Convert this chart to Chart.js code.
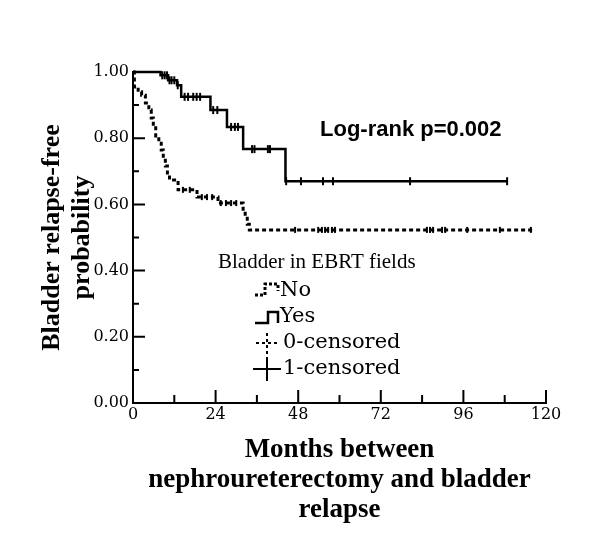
<!DOCTYPE html>
<html>
<head>
<meta charset="utf-8">
<script src="https://cdn.jsdelivr.net/npm/chart.js@4.4.0/dist/chart.umd.min.js"></script>
<style>
  html, body { margin: 0; padding: 0; background: #fff; }
  #wrap { width: 600px; height: 559px; }
</style>
</head>
<body>
<div id="wrap"><canvas id="km-chart" width="600" height="559"></canvas></div>
<script>
// Kaplan-Meier steps (months, probability)
var noTimes = [0, 0.4, 1.5, 2.5, 3.6, 4.6, 5.3, 5.9, 6.6, 7.5, 8.2, 8.8, 9.4, 10.0, 10.6, 13.1, 18.6, 24.7, 32.0, 32.6, 33.2, 33.8, 116];
var noSurv  = [1.00, 0.955, 0.94, 0.93, 0.906, 0.885, 0.861, 0.837, 0.807, 0.785, 0.764, 0.74, 0.716, 0.689, 0.674, 0.644, 0.622, 0.604, 0.585, 0.565, 0.54, 0.523, 0.523];

var yesTimes = [0, 8.0, 10.2, 12.8, 14.0, 22.5, 27.3, 32.0, 44.3, 108.7];
var yesSurv  = [1.00, 0.99, 0.975, 0.96, 0.925, 0.885, 0.834, 0.767, 0.67, 0.67];

// censored patients (tick marks on the curves)
var noCensorT = [14.5, 16.5, 20, 21.5, 23, 25.5, 27, 28.5, 30, 47.1, 53.8, 54.9, 55.8, 56.7, 57.8, 58.7, 85.4, 86.3, 87.2, 89.8, 90.7, 97.1, 106.6, 115.6];
var noCensorS = [0.644, 0.644, 0.622, 0.622, 0.622, 0.604, 0.604, 0.604, 0.604, 0.523, 0.523, 0.523, 0.523, 0.523, 0.523, 0.523, 0.523, 0.523, 0.523, 0.523, 0.523, 0.523, 0.523, 0.523];

var yesCensorT = [8.5, 9.2, 9.9, 10.6, 11.2, 12, 13, 15, 16, 17.5, 18.5, 19.5, 23.3, 24.5, 28.5, 29.6, 30.5, 34.6, 35.3, 39.2, 39.8, 44.5, 48.8, 55.2, 58.1, 80.5, 108.7];
var yesCensorS = [0.99, 0.99, 0.99, 0.975, 0.975, 0.975, 0.96, 0.925, 0.925, 0.925, 0.925, 0.925, 0.885, 0.885, 0.834, 0.834, 0.834, 0.767, 0.767, 0.767, 0.767, 0.67, 0.67, 0.67, 0.67, 0.67, 0.67];

var xMajorTicks = [0, 24, 48, 72, 96, 120];
var xMinorTicks = [12, 36, 60, 84, 108];
var yMajorTicks = [0, 0.2, 0.4, 0.6, 0.8, 1.0];
var yMinorTicks = [0.1, 0.3, 0.5, 0.7, 0.9];

var xTitle = ['Months between', 'nephroureterectomy and bladder', 'relapse'];
var yTitle = ['Bladder relapse-free', 'probability'];
var legendTitle = 'Bladder in EBRT fields';
var legendLabels = ['No', 'Yes', '0-censored', '1-censored'];
var pValueText = 'Log-rank p=0.002';

function toPoints(xs, ys) {
    return xs.map(function (x, i) { return { x: x, y: ys[i] }; });
}

// ticks of this chart point into the plot, so they are drawn here
var innerTicks = {
    id: 'innerTicks',
    afterDraw: function (chart) {
        var ctx = chart.ctx, xs = chart.scales.x, ys = chart.scales.y;
        var bottom = chart.chartArea.bottom, left = chart.chartArea.left;
        ctx.save();
        ctx.strokeStyle = '#000';
        ctx.lineWidth = 2;
        ctx.beginPath();
        xMajorTicks.forEach(function (v) {
            var px = xs.getPixelForValue(v);
            ctx.moveTo(px, bottom); ctx.lineTo(px, bottom - 13);
        });
        xMinorTicks.forEach(function (v) {
            var px = xs.getPixelForValue(v);
            ctx.moveTo(px, bottom); ctx.lineTo(px, bottom - 8);
        });
        yMajorTicks.forEach(function (v) {
            var py = ys.getPixelForValue(v);
            ctx.moveTo(left, py); ctx.lineTo(left + 12, py);
        });
        yMinorTicks.forEach(function (v) {
            var py = ys.getPixelForValue(v);
            ctx.moveTo(left, py); ctx.lineTo(left + 6, py);
        });
        ctx.stroke();
        ctx.restore();
    }
};

// the little key inside the plot, plus the log-rank note
var keyBox = {
    id: 'keyBox',
    afterDraw: function (chart) {
        var ctx = chart.ctx;
        ctx.save();
        ctx.fillStyle = '#000';
        ctx.strokeStyle = '#000';
        ctx.textBaseline = 'middle';

        ctx.font = 'bold 22px "Liberation Sans", Arial, sans-serif';
        ctx.fillText(pValueText, 320, 130);

        ctx.font = '21px "Liberation Serif", "Times New Roman", serif';
        ctx.fillText(legendTitle, 218, 262);

        // No (dashed step)
        ctx.lineWidth = 3;
        ctx.setLineDash([3, 2]);
        ctx.beginPath();
        ctx.moveTo(255, 295); ctx.lineTo(265, 295); ctx.lineTo(265, 284);
        ctx.lineTo(278, 284); ctx.lineTo(278, 291);
        ctx.stroke();
        // Yes (solid step)
        ctx.setLineDash([]);
        ctx.lineWidth = 2.5;
        ctx.beginPath();
        ctx.moveTo(255, 323); ctx.lineTo(268, 323); ctx.lineTo(268, 312);
        ctx.lineTo(278, 312); ctx.lineTo(278, 323);
        ctx.stroke();
        // 0-censored (dashed cross)
        ctx.lineWidth = 2;
        ctx.setLineDash([3, 3]);
        ctx.beginPath();
        ctx.moveTo(256, 343); ctx.lineTo(278, 343);
        ctx.moveTo(267, 333); ctx.lineTo(267, 354);
        ctx.stroke();
        // 1-censored (solid cross)
        ctx.setLineDash([]);
        ctx.beginPath();
        ctx.moveTo(253, 369); ctx.lineTo(281, 369);
        ctx.moveTo(267, 357); ctx.lineTo(267, 381);
        ctx.stroke();

        ctx.font = '21px "DejaVu Serif", serif';
        var rowsY = [291, 317, 343, 369];
        var rowsX = [280, 280, 283, 283];
        legendLabels.forEach(function (lbl, i) {
            ctx.fillText(lbl, rowsX[i], rowsY[i]);
        });
        ctx.restore();
    }
};

var ctx = document.getElementById('km-chart').getContext('2d');
var km_chart = new Chart(ctx, {
    type: 'scatter',
    data: {
        datasets: [
            {
                label: 'No',
                data: toPoints(noTimes, noSurv),
                showLine: true,
                stepped: 'before',
                borderColor: '#000',
                borderWidth: 3,
                borderDash: [4, 3],
                pointRadius: 0,
                clip: false
            },
            {
                label: 'Yes',
                data: toPoints(yesTimes, yesSurv),
                showLine: true,
                stepped: 'before',
                borderColor: '#000',
                borderWidth: 2.5,
                pointRadius: 0,
                clip: false
            },
            {
                label: '0-censored',
                data: toPoints(noCensorT, noCensorS),
                pointStyle: 'line',
                rotation: 90,
                pointRadius: 3,
                borderColor: '#000',
                borderWidth: 2,
                clip: false
            },
            {
                label: '1-censored',
                data: toPoints(yesCensorT, yesCensorS),
                pointStyle: 'line',
                rotation: 90,
                pointRadius: 4,
                borderColor: '#000',
                borderWidth: 2,
                clip: false
            }
        ]
    },
    options: {
        responsive: false,
        animation: false,
        events: [],
        layout: { padding: { top: 72, right: 54, left: 0, bottom: 0 } },
        plugins: {
            legend: { display: false },
            tooltip: { enabled: false }
        },
        scales: {
            x: {
                type: 'linear',
                min: 0,
                max: 120,
                ticks: {
                    stepSize: 24,
                    color: '#000',
                    maxRotation: 0,
                    padding: 2,
                    font: { family: 'DejaVu Serif', size: 16 }
                },
                grid: { drawOnChartArea: false, drawTicks: false },
                border: { color: '#000', width: 2 },
                title: {
                    display: true,
                    text: xTitle,
                    color: '#000',
                    font: { family: 'Liberation Serif', weight: 'bold', size: 27, lineHeight: 1.111 },
                    padding: { top: 0, bottom: 34 }
                },
                afterFit: function (scale) { scale.height = 156; }
            },
            y: {
                min: 0,
                max: 1,
                ticks: {
                    stepSize: 0.2,
                    color: '#000',
                    padding: 4,
                    font: { family: 'DejaVu Serif', size: 16 },
                    callback: function (v) { return v.toFixed(2); }
                },
                grid: { drawOnChartArea: false, drawTicks: false },
                border: { color: '#000', width: 2 },
                title: {
                    display: true,
                    text: yTitle,
                    color: '#000',
                    font: { family: 'Liberation Serif', weight: 'bold', size: 26, lineHeight: 1.154 },
                    padding: { top: 37, bottom: 0 }
                },
                afterFit: function (scale) { scale.width = 133; }
            }
        }
    },
    plugins: [innerTicks, keyBox]
});
</script>
</body>
</html>
